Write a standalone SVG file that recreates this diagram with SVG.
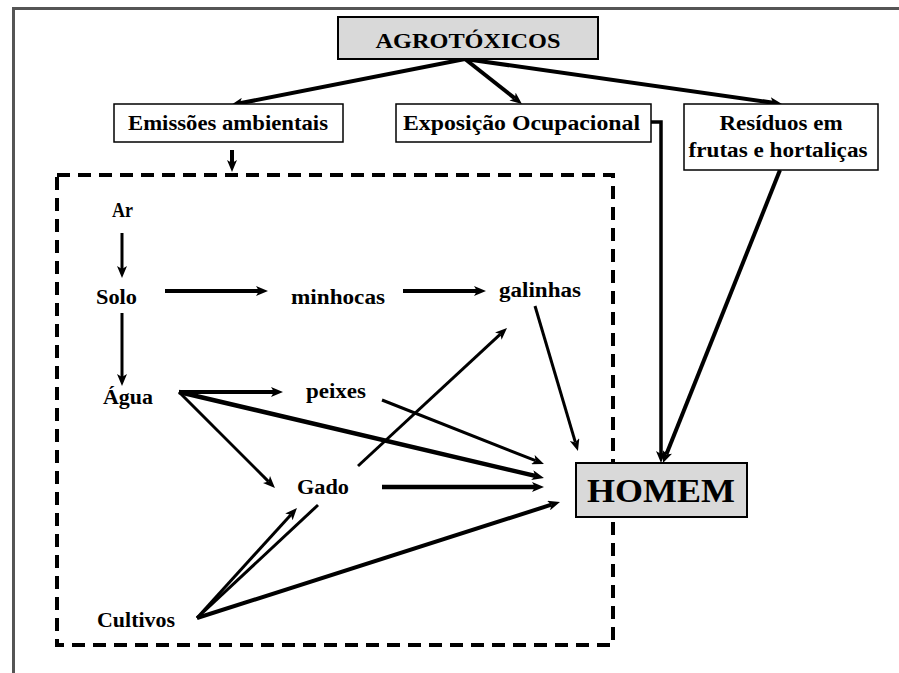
<svg xmlns="http://www.w3.org/2000/svg" width="899" height="673" viewBox="0 0 899 673">
<style>
  text { font-family: "Liberation Serif", "Times New Roman", serif; font-weight: bold; fill: #000; text-anchor: middle; }
  .lbl { font-size: 20px; }
  .box { fill: #fff; stroke: #000; stroke-width: 1.5; }
  .gbox { fill: #d9d9d9; stroke: #000; stroke-width: 2; }
  .c { fill: none; stroke: #000; stroke-width: 3; }
  .t { stroke-width: 4; }
  .a { marker-end: url(#ah); }
</style>
<defs>
  <marker id="ah" viewBox="0 0 12 10" refX="3" refY="5" markerWidth="12" markerHeight="10" markerUnits="userSpaceOnUse" orient="auto">
    <path d="M0,0 L12,5 L0,10 L3,5 z" fill="#000"/>
  </marker>
</defs>
<rect width="899" height="673" fill="#fff"/>
<g id="frame">
  <path d="M13.5,673 V8.5 H899" fill="none" stroke="#555" stroke-width="3"/>
</g>
<g id="boundary">
  <rect x="57" y="175" width="556" height="470" fill="none" stroke="#000" stroke-width="4" stroke-dasharray="13 8"/>
</g>
<g id="connectors">
  <line class="c t a" x1="465" y1="59" x2="239.8" y2="103.3"/>
  <line class="c t a" x1="465" y1="59" x2="514.9" y2="98.4"/>
  <line class="c t a" x1="465" y1="59" x2="773.1" y2="102.7"/>
  <line class="c t a" x1="232" y1="150" x2="232" y2="163"/>
  <path class="c a" style="stroke-width:3.5" d="M651,122 H661 V454"/>
  <line class="c t a" x1="780" y1="170" x2="666.3" y2="454.6"/>
  <line class="c a" x1="122" y1="233" x2="122" y2="269"/>
  <line class="c t a" x1="165" y1="291" x2="259" y2="291"/>
  <line class="c t a" x1="403" y1="291" x2="477" y2="291"/>
  <line class="c a" x1="122" y1="313" x2="122" y2="377"/>
  <line class="c t a" x1="179" y1="392" x2="274" y2="392"/>
  <line class="c a" style="stroke-width:4.5" x1="179" y1="392" x2="535.2" y2="475.9"/>
  <line class="c a" x1="179" y1="392" x2="268.6" y2="481.6"/>
  <line class="c a" style="stroke-width:4.5" x1="382" y1="487" x2="535" y2="487"/>
  <line class="c a" x1="382" y1="400" x2="535.6" y2="460.7"/>
  <line class="c a" x1="535" y1="306" x2="575.4" y2="442.4"/>
  <line class="c" x1="197" y1="618" x2="318" y2="505"/>
  <line class="c a" x1="358" y1="466" x2="500.4" y2="334.1"/>
  <line class="c a" x1="197" y1="618" x2="290.9" y2="514.7"/>
  <line class="c t a" x1="197" y1="618" x2="551.4" y2="504.7"/>
</g>
<g id="agrotoxicos">
  <rect class="gbox" x="338" y="17" width="260" height="42"/>
  <text x="468" y="48" style="font-size:22px" textLength="185" lengthAdjust="spacingAndGlyphs">AGROTÓXICOS</text>
</g>
<g id="emissoes">
  <rect class="box" x="114" y="104" width="229" height="38"/>
  <text class="lbl" x="228" y="130" textLength="200" lengthAdjust="spacingAndGlyphs">Emissões ambientais</text>
</g>
<g id="exposicao">
  <rect class="box" x="396" y="104" width="255" height="38"/>
  <text class="lbl" x="521.5" y="130" textLength="237" lengthAdjust="spacingAndGlyphs">Exposição Ocupacional</text>
</g>
<g id="residuos">
  <rect class="box" x="684" y="104" width="194" height="66"/>
  <text class="lbl" x="781" y="130" textLength="123" lengthAdjust="spacingAndGlyphs">Resíduos em</text>
  <text class="lbl" x="778" y="157" textLength="179" lengthAdjust="spacingAndGlyphs">frutas e hortaliças</text>
</g>
<g id="ar"><text class="lbl" x="122.5" y="217" textLength="21" lengthAdjust="spacingAndGlyphs">Ar</text></g>
<g id="solo"><text class="lbl" x="116.5" y="304" textLength="41" lengthAdjust="spacingAndGlyphs">Solo</text></g>
<g id="minhocas"><text class="lbl" x="338" y="304" textLength="94" lengthAdjust="spacingAndGlyphs">minhocas</text></g>
<g id="galinhas"><text class="lbl" x="540" y="297" textLength="82" lengthAdjust="spacingAndGlyphs">galinhas</text></g>
<g id="agua"><text class="lbl" x="128" y="404" textLength="50" lengthAdjust="spacingAndGlyphs">Água</text></g>
<g id="peixes"><text class="lbl" x="336" y="398" textLength="60" lengthAdjust="spacingAndGlyphs">peixes</text></g>
<g id="gado"><text class="lbl" x="323" y="494" textLength="52" lengthAdjust="spacingAndGlyphs">Gado</text></g>
<g id="cultivos"><text class="lbl" x="136" y="627" textLength="78" lengthAdjust="spacingAndGlyphs">Cultivos</text></g>
<g id="homem">
  <rect class="gbox" x="576" y="463" width="171" height="54"/>
  <text x="661" y="502" style="font-size:33px" textLength="148" lengthAdjust="spacingAndGlyphs">HOMEM</text>
</g>
</svg>
